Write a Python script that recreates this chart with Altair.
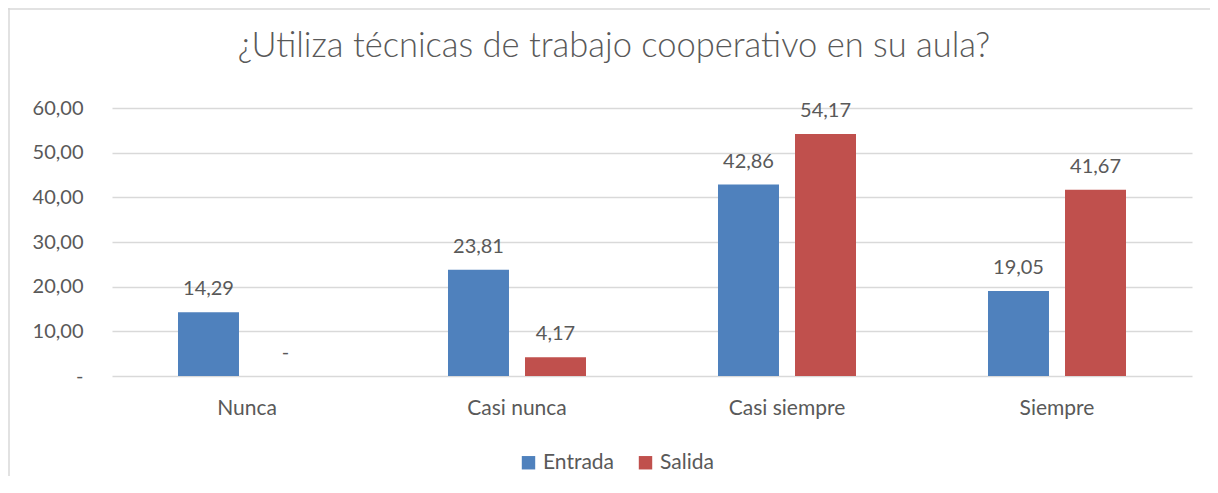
import altair as alt
import pandas as pd

categories = ["Nunca", "Casi nunca", "Casi siempre", "Siempre"]
series = ["Entrada", "Salida"]
entrada = [14.29, 23.81, 42.86, 19.05]
salida = [0.0, 4.17, 54.17, 41.67]
colors = ["#4F81BD", "#C0504D"]
y_ticks = [0, 10, 20, 30, 40, 50, 60]

rows = []
for i, c in enumerate(categories):
    rows.append({"cat": c, "serie": "Entrada", "v": entrada[i]})
    rows.append({"cat": c, "serie": "Salida", "v": salida[i]})
df = pd.DataFrame(rows)

FONT = "Lato"
TXT = "#595959"
GRID = "#D9D9D9"

x_enc = alt.X("cat:N", sort=categories, title=None,
              scale=alt.Scale(paddingInner=0, paddingOuter=0),
              axis=alt.Axis(labelAngle=0, ticks=False, domain=False, grid=False,
                            labelFont=FONT, labelFontSize=21, labelColor=TXT,
                            labelPadding=21))
xoff = alt.XOffset("serie:N", sort=series,
                   scale=alt.Scale(paddingInner=0.208, paddingOuter=0.857))
y_enc = alt.Y("v:Q", title=None,
              scale=alt.Scale(domain=[0, 60], nice=False),
              axis=alt.Axis(values=y_ticks, ticks=False, domain=False,
                            gridColor=GRID, gridWidth=1.3,
                            labelFont=FONT, labelFontSize=20, labelColor=TXT,
                            labelPadding=29,
                            labelExpr="datum.value == 0 ? '-' : replace(format(datum.value, '.2f'), '.', ',')"))

bars = alt.Chart(df).mark_bar().encode(
    x=x_enc, xOffset=xoff, y=y_enc,
    color=alt.Color("serie:N", sort=series,
                    scale=alt.Scale(domain=series, range=colors),
                    legend=alt.Legend(title=None, orient="none", direction="horizontal",
                                      legendX=406, legendY=344,
                                      symbolType="square", symbolSize=180,
                                      symbolStrokeWidth=0, symbolOpacity=1,
                                      labelFont=FONT, labelFontSize=21, labelColor=TXT,
                                      columnPadding=20, labelOffset=4))
)

labels = alt.Chart(df).mark_text(font=FONT, fontSize=20, color=TXT,
                                 baseline="alphabetic", dy=-17).encode(
    x=alt.X("cat:N", sort=categories),
    xOffset=alt.XOffset("serie:N", sort=series),
    y=alt.Y("v:Q"),
    text=alt.Text("lbl:N"),
).transform_calculate(
    lbl="datum.v == 0 ? '-' : replace(format(datum.v, '.2f'), '.', ',')"
)

border = alt.Chart(pd.DataFrame({"a": [0]})).mark_rule(color=GRID, strokeWidth=1.5).encode(
    x=alt.value(-103), y=alt.value(-100), y2=alt.value(400))
border_top = alt.Chart(pd.DataFrame({"a": [0]})).mark_rule(color=GRID, strokeWidth=1.5).encode(
    x=alt.value(-104), x2=alt.value(1098), y=alt.value(-99))

chart = alt.layer(border, border_top, bars, labels).properties(
    width=1080, height=268,
    padding={"left": 104, "top": 100, "right": 18, "bottom": 100},
    autosize=alt.AutoSizeParams(type="none"),
    title=alt.TitleParams("¿Utiliza técnicas de trabajo cooperativo en su aula?",
                          font=FONT, fontSize=34.5, fontWeight=300, color=TXT,
                          anchor="middle", dx=-38, offset=0, dy=57),
).configure_view(stroke=None)

chart.save("out.html", embed_options={"renderer": "svg", "actions": False})
